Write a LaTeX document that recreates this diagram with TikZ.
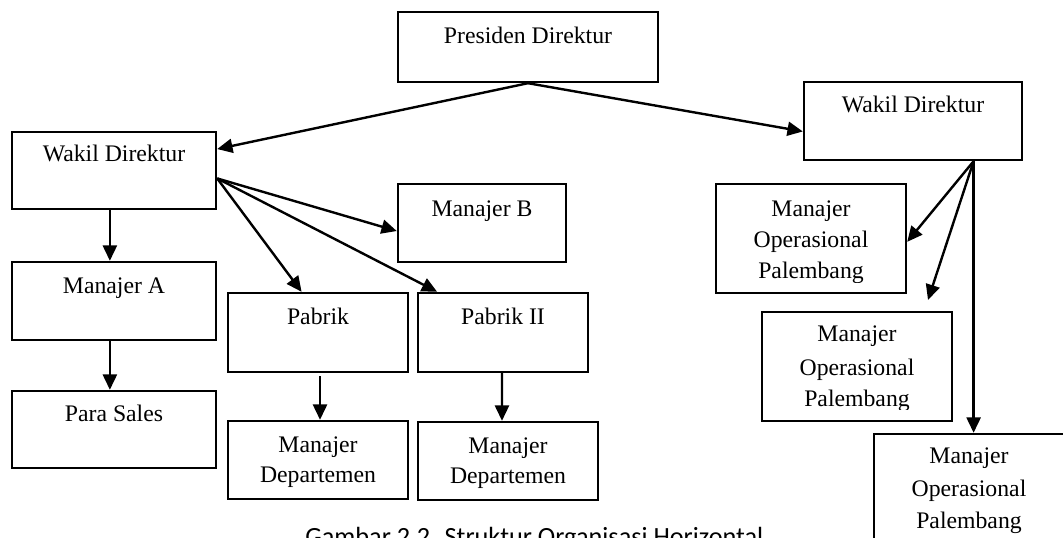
\documentclass[tikz,border=0pt]{standalone}
\usepackage{fontspec}
\setmainfont{Liberation Serif}
\newfontfamily\capfont{Carlito}
\usetikzlibrary{arrows.meta,calc,fit}
\begin{document}
\begin{tikzpicture}[x=0.75pt,y=-0.75pt,
  box/.style={draw=black, line width=1.8pt, rectangle, inner sep=0pt},
  lbl/.style={anchor=base, inner sep=0pt, font=\fontsize{17.8pt}{22pt}\selectfont},
  conn/.style={line width=1.8pt, -{Triangle[length=11.5pt,width=10.5pt]}},
  captxt/.style={anchor=base west, inner sep=0pt, font=\capfont\fontsize{19.7pt}{24pt}\selectfont}
]
\path[use as bounding box] (0,0) rectangle (1063,538);
\clip (0,0) rectangle (1063,538);

% boxes
\node[box, fit={(398,12)(658,82)}] (pd) {};
\node[box, fit={(12,132)(216,209)}] (wl) {};
\node[box, fit={(804,82)(1022,160)}] (wr) {};
\node[box, fit={(398,184)(566,262)}] (mb) {};
\node[box, fit={(12,262)(216,340)}] (ma) {};
\node[box, fit={(12,391)(216,468)}] (ps) {};
\node[box, fit={(228,293)(408,372)}] (pb1) {};
\node[box, fit={(418,293)(588,372)}] (pb2) {};
\node[box, fit={(228,421)(408,499)}] (md1) {};
\node[box, fit={(418,422)(598,500)}] (md2) {};
\node[box, fit={(716,184)(906,293)}] (mo1) {};
\node[box, fit={(762,312)(952,421)}] (mo2) {};
\node[box, fit={(874,434)(1064,545)}] (mo3) {};

% labels
\node[lbl] (pdt) at ($(pd.north)+(0,33)$) {Presiden Direktur};
\node[lbl] (wlt) at ($(wl.north)+(0,31)$) {Wakil Direktur};
\node[lbl] (wrt) at ($(wr.north)+(0,32)$) {Wakil Direktur};
\node[lbl] (mbt) at ($(mb.north)+(0,34)$) {Manajer B};
\node[lbl] (mat) at ($(ma.north)+(0,33)$) {Manajer A};
\node[lbl] (pst) at ($(ps.north)+(0,32)$) {Para Sales};
\node[lbl] (pb1t) at ($(pb1.north)+(0,33)$) {Pabrik};
\node[lbl] (pb2t) at ($(pb2.north)+(0,33)$) {Pabrik II};
\node[lbl] (md1a) at ($(md1.north)+(0,33)$) {Manajer};
\node[lbl] (md1b) at ($(md1.north)+(0,63)$) {Departemen};
\node[lbl] (md2a) at ($(md2.north)+(0,33)$) {Manajer};
\node[lbl] (md2b) at ($(md2.north)+(0,63)$) {Departemen};
\begin{scope}
\clip (716,184) rectangle (906,282);
\node[lbl] (mo1a) at ($(mo1.north)+(0,34)$) {Manajer};
\node[lbl] (mo1b) at ($(mo1.north)+(0,65)$) {Operasional};
\node[lbl] (mo1c) at ($(mo1.north)+(0,96)$) {Palembang};
\end{scope}
\begin{scope}
\clip (762,312) rectangle (952,409);
\node[lbl] (mo2a) at ($(mo2.north)+(0,31)$) {Manajer};
\node[lbl] (mo2b) at ($(mo2.north)+(0,65)$) {Operasional};
\node[lbl] (mo2c) at ($(mo2.north)+(0,96)$) {Palembang};
\end{scope}
\begin{scope}
\clip (874,434) rectangle (1064,535);
\node[lbl] (mo3a) at ($(mo3.north)+(0,31)$) {Manajer};
\node[lbl] (mo3b) at ($(mo3.north)+(0,64)$) {Operasional};
\node[lbl] (mo3c) at ($(mo3.north)+(0,96)$) {Palembang};
\end{scope}

% caption
\node[captxt] (cap) at (305,545) {Gambar 2.2. Struktur Organisasi Horizontal};

% connectors
\draw[conn] (pd.south) -- ($(wl.north east)!0.23!(wl.south east)$);
\draw[conn] (pd.south) -- ($(wr.north west)!0.63!(wr.south west)$);
\coordinate (wlo) at ($(wl.north east)!0.6!(wl.south east)$);
\draw[conn] (wlo) -- ($(mb.north west)!0.6!(mb.south west)$);
\draw[conn] (wlo) -- ($(pb1.north west)!0.41!(pb1.north east)$);
\draw[conn] (wlo) -- ($(pb2.north west)!0.118!(pb2.north east)$);
\draw[conn] ($(wl.south west)!0.48!(wl.south east)$) -- ($(ma.north west)!0.48!(ma.north east)$);
\draw[conn] ($(ma.south west)!0.48!(ma.south east)$) -- ($(ps.north west)!0.48!(ps.north east)$);
\draw[conn] ($(pb1.south west)!0.511!(pb1.south east)+(0,3)$) -- ($(md1.north west)!0.511!(md1.north east)$);
\draw[conn] ($(pb2.south west)!0.494!(pb2.south east)$) -- ($(md2.north west)!0.467!(md2.north east)$);
\coordinate (wro) at ($(wr.south west)!0.775!(wr.south east)$);
\coordinate (fe) at (928,300);
\draw[conn] (wro) -- ($(mo1.north east)!0.53!(mo1.south east)$);
\draw[conn] (wro) -- (fe);
\draw[conn] (wro) -- (wro |- mo3.north);
\end{tikzpicture}
\end{document}
